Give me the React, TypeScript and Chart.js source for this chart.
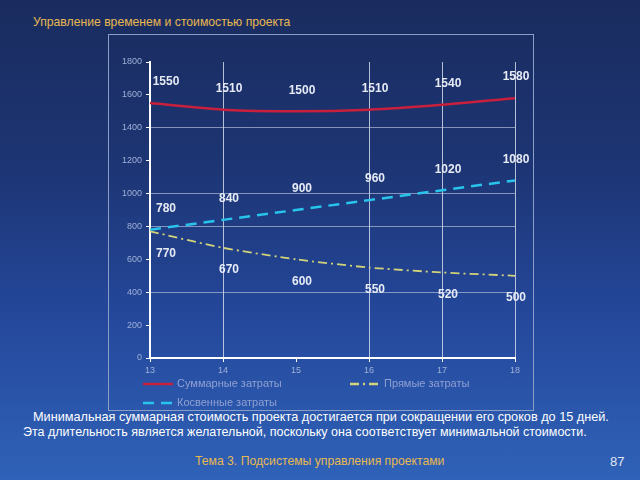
import React, { useEffect, useRef } from "react";
import { Chart, registerables } from "chart.js";

Chart.register(...registerables);

const days = ["13", "14", "15", "16", "17", "18"];
const totalCost = [1550, 1510, 1500, 1510, 1540, 1580];
const indirectCost = [780, 840, 900, 960, 1020, 1080];
const directCost = [770, 670, 600, 550, 520, 500];
const seriesNames = ["Суммарные затраты", "Прямые затраты", "Косвенные затраты"];
const yMin = 0;
const yMax = 1800;
const yStep = 200;

const titleText = "Управление временем и стоимостью проекта";
const bodyLine1 = "Минимальная суммарная стоимость проекта достигается при сокращении его сроков до 15 дней.";
const bodyLine2 = "Эта длительность является желательной, поскольку она соответствует минимальной стоимости.";
const footerText = "Тема 3. Подсистемы управления проектами";
const pageNumber = "87";

const visibleYGrid = [400, 800, 1000, 1400];
const visibleXGrid = ["14", "16", "17", "18"];

const labelPlugin = {
  id: "valueLabels",
  afterDatasetsDraw(chart: any) {
    const ctx = chart.ctx;
    ctx.save();
    ctx.font = "bold 12px 'Liberation Sans', Arial, sans-serif";
    ctx.fillStyle = "#e6ebf5";
    ctx.textAlign = "center";
    ctx.textBaseline = "middle";
    const last = chart.data.labels.length - 1;
    chart.data.datasets.forEach((ds: any, di: number) => {
      const meta = chart.getDatasetMeta(di);
      const below = ds.labelBelow;
      meta.data.forEach((pt: any, i: number) => {
        const dx = i === 0 ? 16 : i === last ? 1 : 6;
        const dy = below ? 22 : -21;
        ctx.fillText(String(ds.data[i]), pt.x + dx, pt.y + dy);
      });
    });
    ctx.restore();
  },
};

const legendPlugin = {
  id: "customLegend",
  afterDraw(chart: any) {
    const ctx = chart.ctx;
    const a = chart.chartArea;
    ctx.save();
    ctx.font = "11px 'Liberation Sans', Arial, sans-serif";
    ctx.textBaseline = "middle";
    ctx.textAlign = "left";
    const items = [
      { ds: 0, x: a.left - 7, y: a.bottom + 26 },
      { ds: 1, x: a.left + 200, y: a.bottom + 26 },
      { ds: 2, x: a.left - 7, y: a.bottom + 45 },
    ];
    items.forEach((it) => {
      const ds = chart.data.datasets[it.ds];
      ctx.strokeStyle = ds.borderColor;
      ctx.lineWidth = 2.5;
      ctx.setLineDash(ds.borderDash || []);
      ctx.beginPath();
      ctx.moveTo(it.x, it.y);
      ctx.lineTo(it.x + 30, it.y);
      ctx.stroke();
      ctx.setLineDash([]);
      ctx.fillStyle = "#8fa0d2";
      ctx.fillText(ds.label, it.x + 34, it.y);
    });
    ctx.restore();
  },
};

function ChartBox() {
  const ref = useRef<HTMLCanvasElement | null>(null);
  useEffect(() => {
    if (!ref.current) return;
    const chart = new Chart(ref.current, {
      type: "line",
      data: {
        labels: days,
        datasets: [
          {
            label: seriesNames[0],
            data: totalCost,
            borderColor: "#c8203c",
            borderWidth: 2.5,
            pointRadius: 0,
            tension: 0.3,
            fill: false,
          } as any,
          {
            label: seriesNames[1],
            data: directCost,
            borderColor: "#d2d27a",
            borderWidth: 1.8,
            borderDash: [9, 4, 2, 4],
            pointRadius: 0,
            tension: 0.2,
            fill: false,
            labelBelow: true,
          } as any,
          {
            label: seriesNames[2],
            data: indirectCost,
            borderColor: "#28c4ec",
            borderWidth: 2.5,
            borderDash: [11, 7],
            pointRadius: 0,
            tension: 0,
            fill: false,
          } as any,
        ],
      },
      options: {
        animation: false,
        responsive: false,
        maintainAspectRatio: false,
        layout: { padding: { left: 0, right: 18, top: 27, bottom: 32 } },
        plugins: { legend: { display: false }, tooltip: { enabled: false } },
        scales: {
          x: {
            type: "category",
            offset: false,
            afterFit: (s: any) => {
              s.height = 20;
            },
            border: { color: "#ffffff", width: 2 },
            grid: {
              drawOnChartArea: true,
              color: (c: any) =>
                c.tick && visibleXGrid.includes(days[c.index]) ? "rgba(220,226,240,0.8)" : "rgba(0,0,0,0)",
              lineWidth: 1,
              tickLength: 4,
              tickColor: "#ffffff",
            },
            ticks: {
              color: "#9fb0d8",
              font: { size: 9, family: "'Liberation Sans', Arial, sans-serif" },
              padding: 3,
              maxRotation: 0,
            },
          },
          y: {
            min: yMin,
            max: yMax,
            afterFit: (s: any) => {
              s.width = 41;
            },
            border: { color: "#ffffff", width: 2 },
            grid: {
              color: (c: any) =>
                c.tick && visibleYGrid.includes(c.tick.value) ? "rgba(200,210,230,0.6)" : "rgba(0,0,0,0)",
              lineWidth: 1,
              tickLength: 4,
              tickColor: "#ffffff",
            },
            ticks: {
              stepSize: yStep,
              color: "#9fb0d8",
              font: { size: 9, family: "'Liberation Sans', Arial, sans-serif" },
              padding: 4,
              callback: (v: any) => String(v),
            },
          },
        },
      },
      plugins: [labelPlugin, legendPlugin],
    });
    return () => chart.destroy();
  }, []);
  return <canvas ref={ref} width={424} height={375} style={{ display: "block", width: 424, height: 375 }} />;
}

export default function App() {
  useEffect(() => {
    document.body.style.margin = "0";
  }, []);
  const font = "'Liberation Sans', Arial, sans-serif";
  return (
    <div
      style={{
        position: "relative",
        width: 640,
        height: 480,
        overflow: "hidden",
        background: "linear-gradient(180deg, #1a2c5f 0%, #1d3574 35%, #24479a 65%, #2f62b8 100%)",
        fontFamily: font,
      }}
    >
      <div
        style={{
          position: "absolute",
          left: 33,
          top: 15,
          color: "#e8b850",
          fontSize: 12.2,
          whiteSpace: "nowrap",
        }}
      >
        {titleText}
      </div>
      <div
        style={{
          position: "absolute",
          left: 108,
          top: 34,
          width: 424,
          height: 375,
          border: "1px solid #8a9ec8",
        }}
      >
        <ChartBox />
      </div>
      <div
        style={{
          position: "absolute",
          left: 33,
          top: 410,
          color: "#ffffff",
          fontSize: 12.7,
          whiteSpace: "nowrap",
        }}
      >
        {bodyLine1}
      </div>
      <div
        style={{
          position: "absolute",
          left: 23,
          top: 425,
          color: "#ffffff",
          fontSize: 12.5,
          whiteSpace: "nowrap",
        }}
      >
        {bodyLine2}
      </div>
      <div
        style={{
          position: "absolute",
          left: 195,
          top: 454,
          color: "#e8b850",
          fontSize: 12.2,
          whiteSpace: "nowrap",
        }}
      >
        {footerText}
      </div>
      <div
        style={{
          position: "absolute",
          left: 610,
          top: 454,
          color: "#e0e6f2",
          fontSize: 13,
        }}
      >
        {pageNumber}
      </div>
    </div>
  );
}
